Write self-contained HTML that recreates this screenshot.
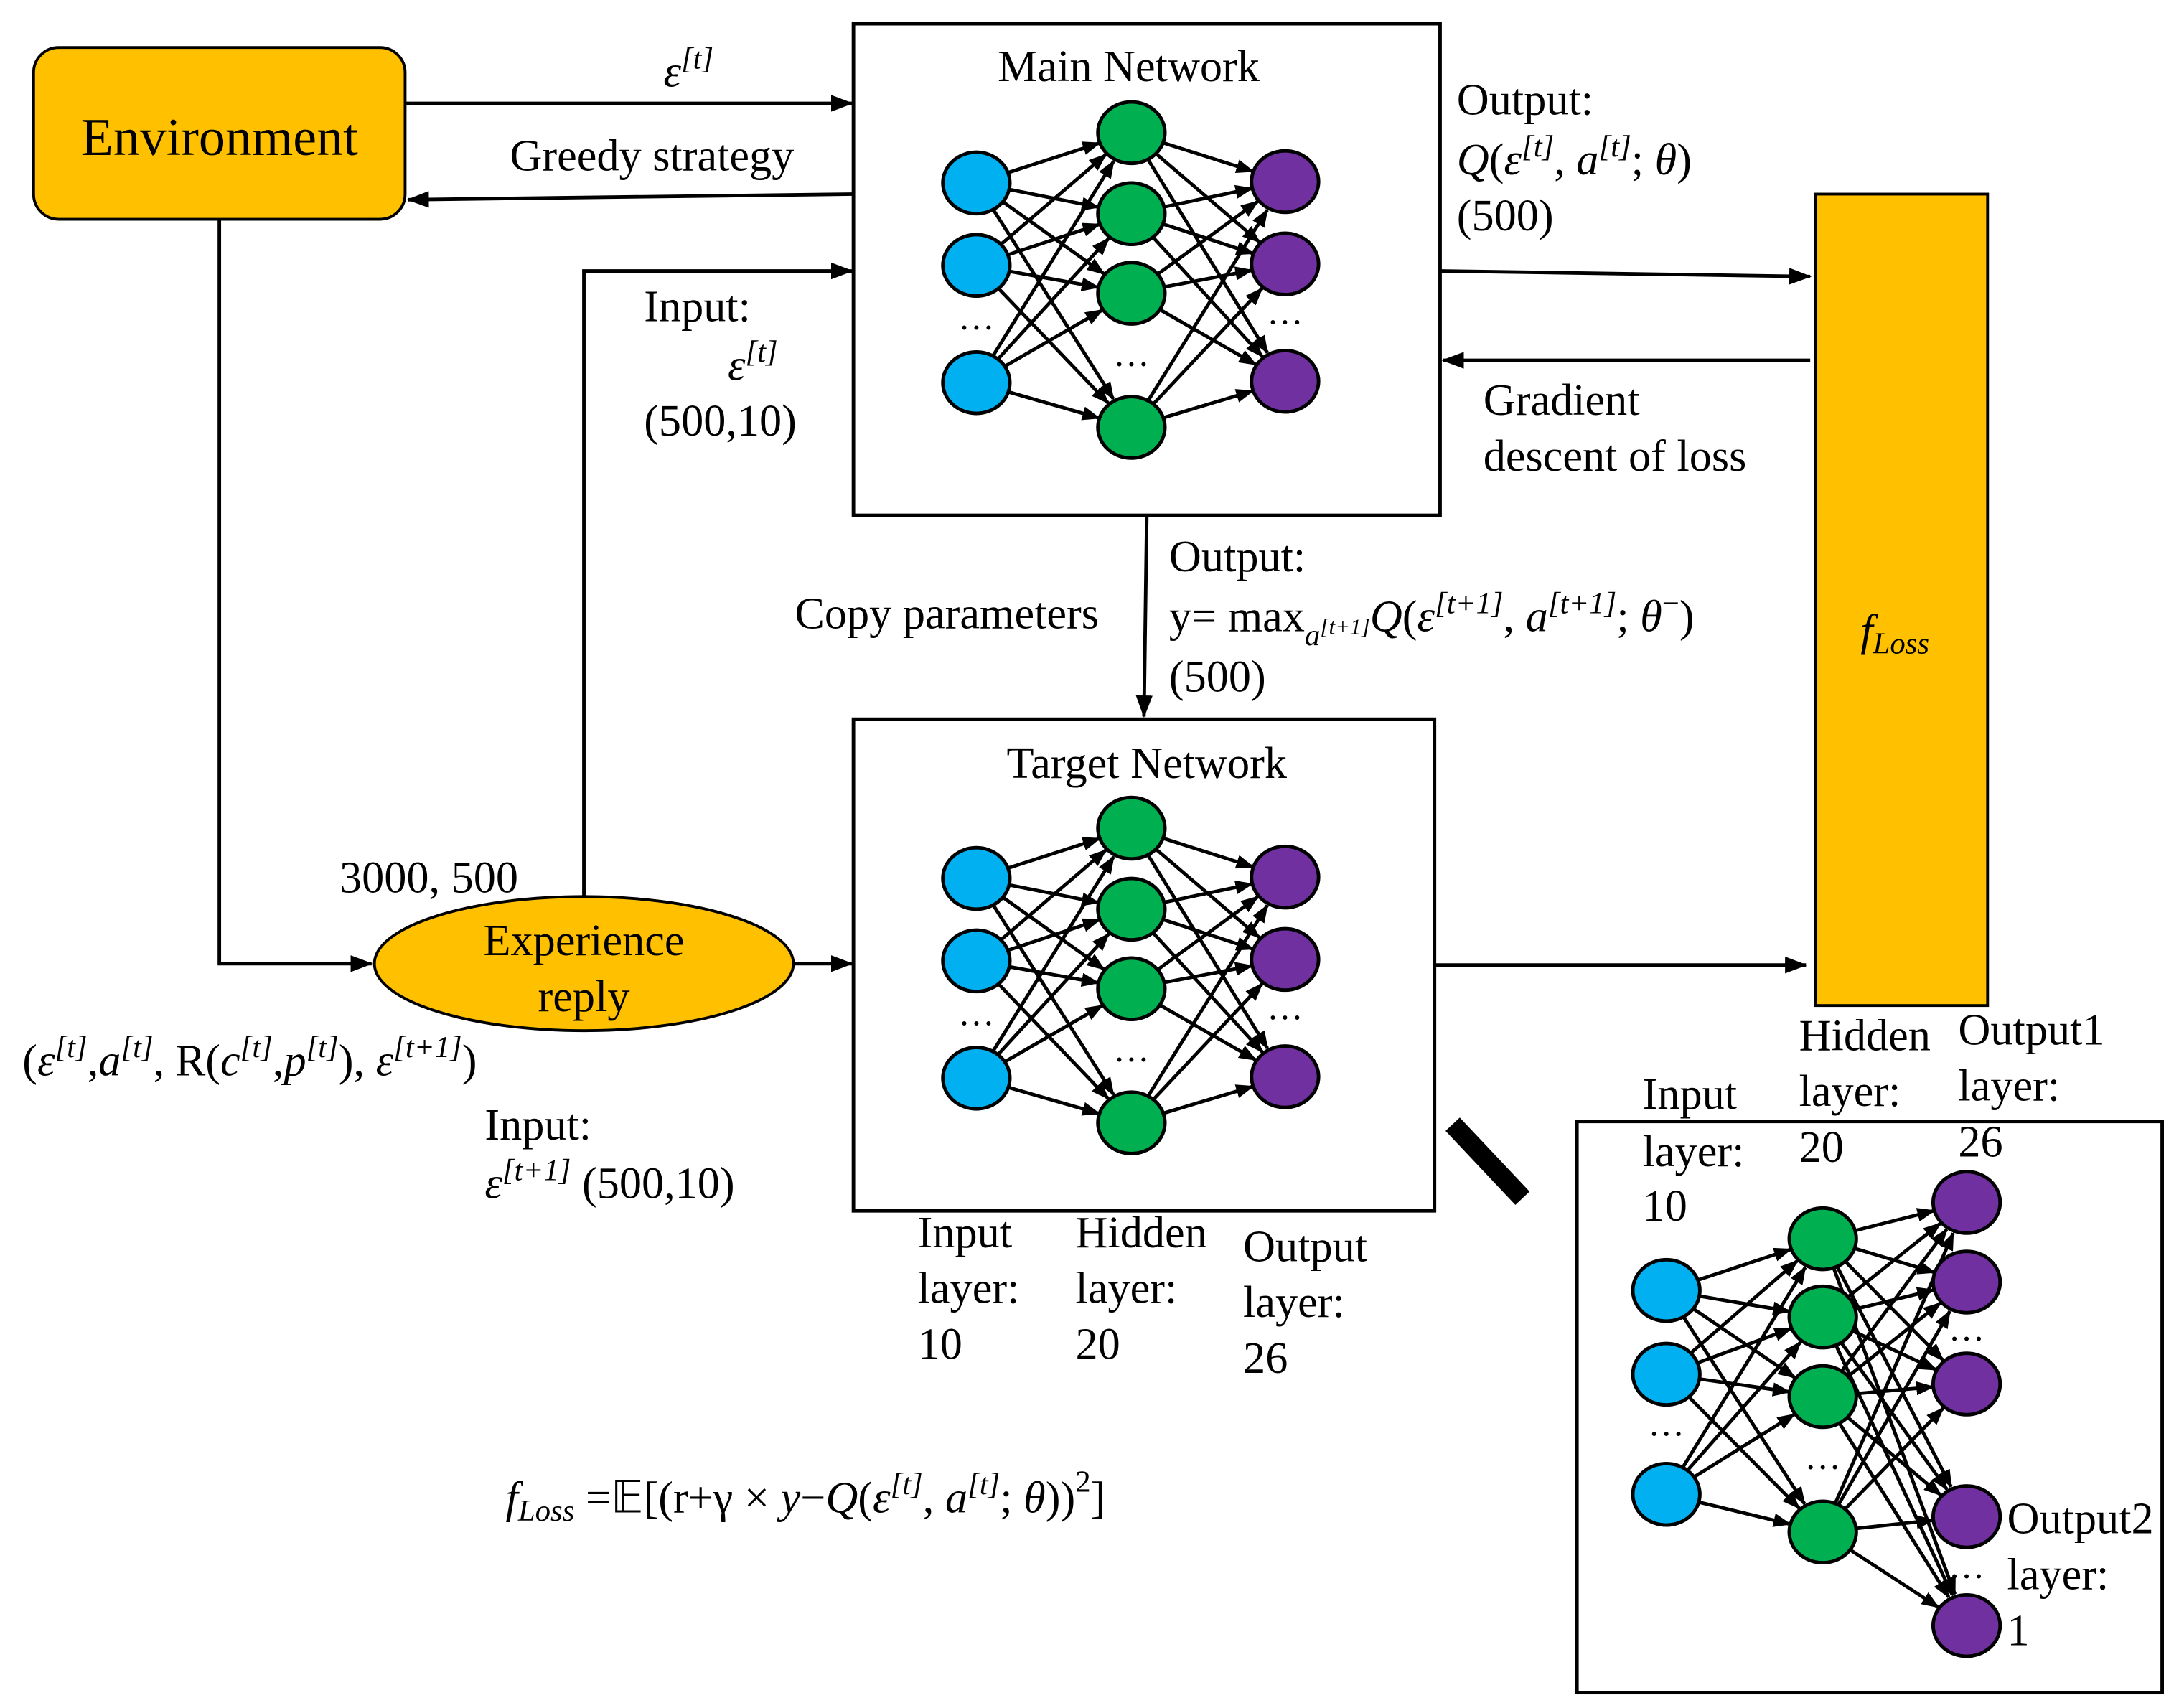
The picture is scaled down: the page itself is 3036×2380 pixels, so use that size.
<!DOCTYPE html>
<html><head><meta charset="utf-8"><style>
html,body{margin:0;padding:0;background:#fff;}
svg{display:block;}
text{font-family:"Liberation Serif",serif;fill:#000;}
.i{font-style:italic;}
</style></head><body>
<svg id="s" width="3036" height="2380" viewBox="0 0 1560 1223" xmlns="http://www.w3.org/2000/svg">
<defs>
<marker id="a" markerWidth="13" markerHeight="10" refX="12" refY="5" orient="auto" markerUnits="userSpaceOnUse"><path d="M0,0 L13,5 L0,10 z" fill="#000"/></marker>
<marker id="b" markerWidth="16" markerHeight="12" refX="15" refY="6" orient="auto" markerUnits="userSpaceOnUse"><path d="M0,0 L16,6 L0,12 z" fill="#000"/></marker>
</defs>
<rect x="24" y="34" width="266" height="123" rx="18" fill="#FFC000" stroke="#000" stroke-width="2"/>
<text x="157" y="111" font-size="38" text-anchor="middle">Environment</text>
<rect x="611" y="17" width="420" height="352" fill="#fff" stroke="#000" stroke-width="2.5"/>
<rect x="611" y="515" width="416" height="352" fill="#fff" stroke="#000" stroke-width="2.5"/>
<rect x="1300" y="139" width="123" height="581" fill="#FFC000" stroke="#000" stroke-width="2"/>
<rect x="1129" y="803" width="419" height="409" fill="#fff" stroke="#000" stroke-width="2.5"/>
<line x1="1040" y1="805" x2="1090" y2="858" stroke="#000" stroke-width="14"/>
<ellipse cx="418" cy="690" rx="150" ry="48" fill="#FFC000" stroke="#000" stroke-width="2"/>
<text x="418" y="684" font-size="32" text-anchor="middle">Experience</text>
<text x="418" y="724" font-size="32" text-anchor="middle">reply</text>
<g stroke="#000" stroke-width="2.5" fill="none">
<line x1="290" y1="74" x2="610" y2="74" marker-end="url(#b)"/>
<line x1="610" y1="139" x2="292" y2="143" marker-end="url(#b)"/>
<polyline points="157,157 157,690 266,690" marker-end="url(#b)"/>
<polyline points="418,642 418,194 610,194" marker-end="url(#b)"/>
<line x1="568" y1="690" x2="610" y2="690" marker-end="url(#b)"/>
<line x1="1031" y1="194" x2="1296" y2="198" marker-end="url(#b)"/>
<line x1="1296" y1="258" x2="1033" y2="258" marker-end="url(#b)"/>
<line x1="821" y1="370" x2="819" y2="513" marker-end="url(#b)"/>
<line x1="1027" y1="691" x2="1293" y2="691" marker-end="url(#b)"/>
</g>
<g id="net"></g>
<g font-size="32">
<text x="808" y="58" text-anchor="middle">Main Network</text>
<text x="821" y="557" text-anchor="middle">Target Network</text>
<text x="475" y="62" class="i">ε<tspan font-size="22" dy="-13">[t]</tspan></text>
<text x="365" y="122">Greedy strategy</text>
<text x="461" y="230">Input:</text>
<text x="521" y="272" class="i">ε<tspan font-size="22" dy="-13">[t]</tspan></text>
<text x="461" y="312">(500,10)</text>
<text x="1043" y="82">Output:</text>
<text x="1043" y="125"><tspan class="i">Q</tspan>(<tspan class="i">ε</tspan><tspan font-size="22" dy="-13" class="i">[t]</tspan><tspan dy="13">, </tspan><tspan class="i">a</tspan><tspan font-size="22" dy="-13" class="i">[t]</tspan><tspan dy="13">; </tspan><tspan class="i">θ</tspan>)</text>
<text x="1043" y="165">(500)</text>
<text x="1062" y="297">Gradient</text>
<text x="1062" y="337">descent of loss</text>
<text x="569" y="450">Copy parameters</text>
<text x="837" y="409">Output:</text>
<text x="837" y="452">y= max<tspan font-size="22" dy="10" class="i">a</tspan><tspan font-size="16" dy="-8" class="i">[t+1]</tspan><tspan dy="-2" class="i">Q</tspan>(<tspan class="i">ε</tspan><tspan font-size="22" dy="-13" class="i">[t+1]</tspan><tspan dy="13">, </tspan><tspan class="i">a</tspan><tspan font-size="22" dy="-13" class="i">[t+1]</tspan><tspan dy="13">; </tspan><tspan class="i">θ</tspan><tspan font-size="22" dy="-13">−</tspan><tspan dy="13">)</tspan></text>
<text x="837" y="495">(500)</text>
<text x="1332" y="462" class="i">f<tspan font-size="22" dy="6">Loss</tspan></text>
<text x="243" y="639">3000, 500</text>
<text x="16" y="770">(<tspan class="i">ε</tspan><tspan font-size="22" dy="-13" class="i">[t]</tspan><tspan dy="13">,</tspan><tspan class="i">a</tspan><tspan font-size="22" dy="-13" class="i">[t]</tspan><tspan dy="13">, R(</tspan><tspan class="i">c</tspan><tspan font-size="22" dy="-13" class="i">[t]</tspan><tspan dy="13">,</tspan><tspan class="i">p</tspan><tspan font-size="22" dy="-13" class="i">[t]</tspan><tspan dy="13">), </tspan><tspan class="i">ε</tspan><tspan font-size="22" dy="-13" class="i">[t+1]</tspan><tspan dy="13">)</tspan></text>
<text x="347" y="816">Input:</text>
<text x="347" y="858"><tspan class="i">ε</tspan><tspan font-size="22" dy="-13" class="i">[t+1]</tspan><tspan dy="13"> (500,10)</tspan></text>
<text x="657" y="893">Input</text><text x="657" y="933">layer:</text><text x="657" y="973">10</text>
<text x="770" y="893">Hidden</text><text x="770" y="933">layer:</text><text x="770" y="973">20</text>
<text x="890" y="903">Output</text><text x="890" y="943">layer:</text><text x="890" y="983">26</text>
<text x="1176" y="794">Input</text><text x="1176" y="835">layer:</text><text x="1176" y="874">10</text>
<text x="1288" y="752">Hidden</text><text x="1288" y="792">layer:</text><text x="1288" y="832">20</text>
<text x="1402" y="748">Output1</text><text x="1402" y="788">layer:</text><text x="1402" y="828">26</text>
<text x="1437" y="1098">Output2</text><text x="1437" y="1138">layer:</text><text x="1437" y="1178">1</text>
<text x="362" y="1083"><tspan class="i">f</tspan><tspan font-size="22" dy="6" class="i">Loss</tspan><tspan dy="-6"> =𝔼[(r+γ × </tspan><tspan class="i">y</tspan>−<tspan class="i">Q</tspan>(<tspan class="i">ε</tspan><tspan font-size="22" dy="-13" class="i">[t]</tspan><tspan dy="13">, </tspan><tspan class="i">a</tspan><tspan font-size="22" dy="-13" class="i">[t]</tspan><tspan dy="13">; </tspan><tspan class="i">θ</tspan>))<tspan font-size="22" dy="-15">2</tspan><tspan dy="15">]</tspan></text>
</g>
</svg>
<script>
var g=document.getElementById('net'),NS='http://www.w3.org/2000/svg';
function el(n,a){var e=document.createElementNS(NS,n);for(var k in a)e.setAttribute(k,a[k]);g.appendChild(e);return e;}
function layer(x,ys,c){return ys.map(function(y){return {x:x,y:y,c:c};});}
function conn(A,B){A.forEach(function(p){B.forEach(function(q){var dx=q.x-p.x,dy=q.y-p.y,L=Math.sqrt(dx*dx+dy*dy);
el('line',{x1:p.x+dx/L*23,y1:p.y+dy/L*23,x2:q.x-dx/L*24,y2:q.y-dy/L*24,stroke:'#000','stroke-width':2.5,'marker-end':'url(#a)'});});});}
function nodes(L){L.forEach(function(p){el('ellipse',{cx:p.x,cy:p.y,rx:24,ry:22,fill:p.c,stroke:'#000','stroke-width':2.5});});}
function dots(x,y){var t=el('text',{x:x,y:y,'font-size':26,'text-anchor':'middle'});t.textContent='…';}
var B='#00B0F0',G='#00B050',P='#7030A0';
[0,498].forEach(function(o){
var a=layer(699,[131+o,190+o,274+o],B),b=layer(810,[95+o,153+o,210+o,306+o],G),c=layer(920,[130+o,189+o,273+o],P);
conn(a,b);conn(b,c);nodes(a);nodes(b);nodes(c);dots(699,236+o);dots(810,262+o);dots(920,232+o);});
var a=layer(1193,[924,984,1070],B),b=layer(1305,[887,943,1000,1097],G),c=layer(1408,[861,918,991,1086,1164],P);
conn(a,b);conn(b,c);nodes(a);nodes(b);nodes(c);dots(1193,1028);dots(1305,1052);dots(1408,960);dots(1408,1130);
</script>
</body></html>
